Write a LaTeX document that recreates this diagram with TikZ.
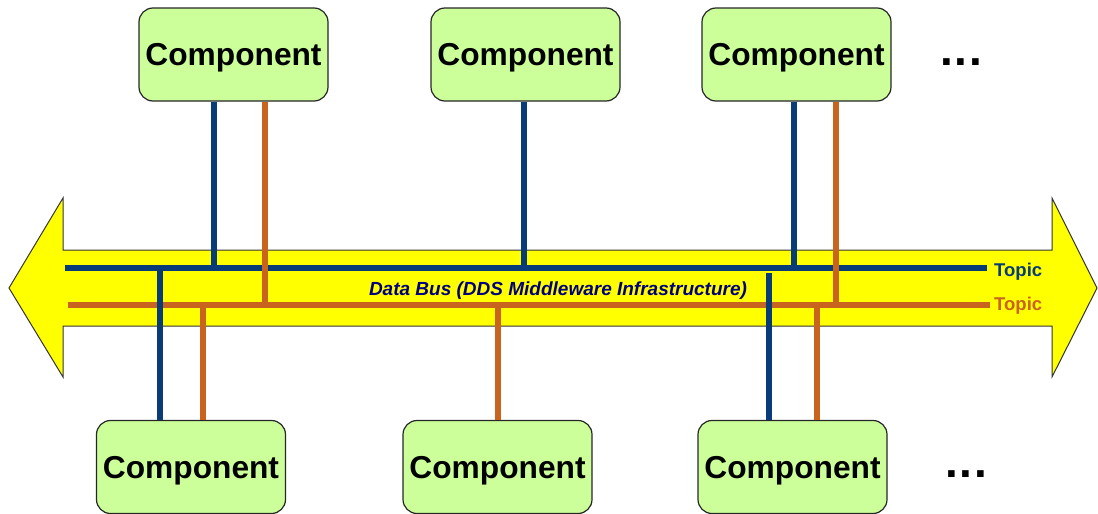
\documentclass[tikz,border=0pt]{standalone}
\usepackage{fontspec}
\setmainfont{Liberation Sans}
\definecolor{busblue}{RGB}{8,60,120}
\definecolor{busorange}{RGB}{200,100,30}
\definecolor{compfill}{RGB}{204,255,153}
\definecolor{busyellow}{RGB}{255,255,0}
\definecolor{navytext}{RGB}{0,0,128}
\begin{document}
\begin{tikzpicture}[x=1pt,y=-1pt,
  comp/.style={draw=black!85,line width=1.2pt,fill=compfill,rounded corners=14pt,
    minimum width=189pt,minimum height=93pt,inner sep=0pt,text depth=0pt,
    font=\fontsize{31.7}{36}\selectfont\bfseries},
  bluebus/.style={draw=busblue,line width=6.5pt},
  orangebus/.style={draw=busorange,line width=6.5pt},
  topic/.style={anchor=west,inner sep=0pt,font=\fontsize{18.5}{22}\selectfont\bfseries},
  dots/.style={anchor=base,inner sep=0pt,font=\fontsize{46}{52}\selectfont\bfseries}]
\useasboundingbox (0,0) rectangle (1098,514);
% the bus arrow
\draw[fill=busyellow,draw=black!80,line width=1pt]
  (9,288) -- (63,198) -- (63,250) -- (1052,250) -- (1052,198) -- (1097,288)
  -- (1052,377) -- (1052,326) -- (63,326) -- (63,377) -- cycle;
\node[font=\fontsize{19}{23}\selectfont\bfseries\itshape,text=navytext,inner sep=0pt] (bus) at (558,290.5) {Data Bus (DDS Middleware Infrastructure)};
% components
\node[comp] (t1) at (233.5,54.5) {Component};
\node[comp] (t2) at (525.5,54.5) {Component};
\node[comp] (t3) at (796.5,54.5) {Component};
\node[comp] (b1) at (191,467) {Component};
\node[comp] (b2) at (497.5,467) {Component};
\node[comp] (b3) at (792.5,467) {Component};
\node[dots] (d1) at (961,65) {.\kern1.8pt.\kern1.8pt.};
\node[dots] (d2) at (966,477) {.\kern1.8pt.\kern1.8pt.};
% bus lines
\coordinate (BL) at (65,268);
\coordinate (BR) at (987,268);
\coordinate (OL) at (68,305);
\coordinate (OR) at (990,305);
\draw[bluebus] (BL) -- (BR);
\draw[orangebus] (OL) -- (OR);
\node[topic,text=busblue] (tb) at (994,271.5) {Topic};
\node[topic,text=busorange] (to) at (994,305.5) {Topic};
% top connectors
\draw[bluebus] (t1.south -| 214,0) -- (214,0 |- BL);
\draw[orangebus] (t1.south -| 265,0) -- (265,0 |- OL);
\draw[bluebus] (t2.south -| 524,0) -- (524,0 |- BL);
\draw[bluebus] (t3.south -| 794,0) -- (794,0 |- BL);
\draw[orangebus] (t3.south -| 836,0) -- (836,0 |- OL);
% bottom connectors
\draw[bluebus] (b1.north -| 160,0) -- (160,0 |- BL);
\draw[orangebus] (b1.north -| 203,0) -- (203,0 |- OL);
\draw[orangebus] (b2.north -| 498,0) -- (498,0 |- OL);
\draw[bluebus] (b3.north -| 769,0) -- (769,273);
\draw[orangebus] (b3.north -| 817,0) -- (817,0 |- OL);
\end{tikzpicture}
\end{document}
